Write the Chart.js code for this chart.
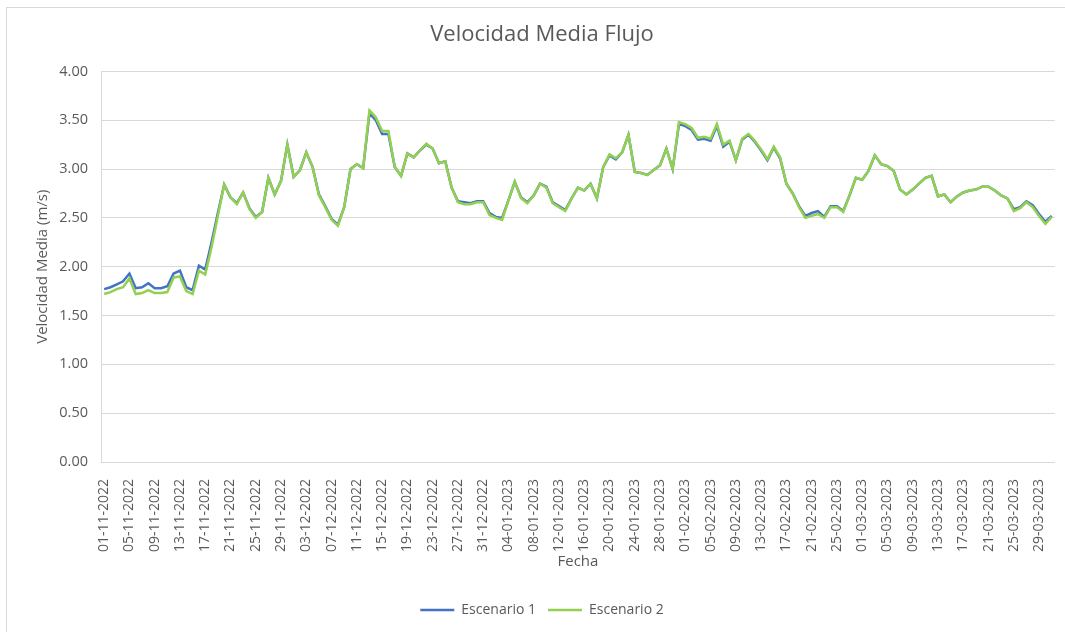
<!DOCTYPE html>
<html>
<head>
<meta charset="utf-8">
<script src="https://cdn.jsdelivr.net/npm/chart.js@4/dist/chart.umd.min.js"></script>
<style>
  html, body { margin: 0; padding: 0; background: #ffffff; }
  #wrap { position: relative; width: 1065px; height: 632px; overflow: hidden; background: #fff; }
  #frame { position: absolute; left: 6px; top: 7px; width: 1070px; height: 640px; border: 1px solid #D9D9D9; box-sizing: border-box; }
  canvas { position: absolute; left: 0; top: 0; }
</style>
</head>
<body>
<div id="wrap">
  <div id="frame"></div>
  <canvas id="c" width="1065" height="632"></canvas>
</div>
<script>
// Categories: daily dates 01-11-2022 .. 31-03-2023
const fechaInicio = [2022, 10, 1];
const numDias = 151;
const fechas = [];
for (let k = 0; k < numDias; k++) {
  const d = new Date(Date.UTC(fechaInicio[0], fechaInicio[1], fechaInicio[2] + k));
  const dd = String(d.getUTCDate()).padStart(2, '0');
  const mm = String(d.getUTCMonth() + 1).padStart(2, '0');
  fechas.push(dd + '-' + mm + '-' + d.getUTCFullYear());
}

const escenario1 = [
  1.77,1.79,1.82,1.85,1.93,1.78,1.79,1.83,1.78,1.78,1.80,1.93,1.96,1.79,1.76,2.01,1.97,
  2.25,2.55,2.84,2.71,2.65,2.76,2.60,2.51,2.56,2.91,2.74,2.88,3.25,2.92,2.99,3.17,3.02,
  2.74,2.62,2.49,2.43,2.61,3.00,3.05,3.01,3.57,3.50,3.36,3.36,3.02,2.93,3.16,3.12,3.19,
  3.25,3.21,3.06,3.08,2.81,2.67,2.66,2.65,2.67,2.67,2.55,2.51,2.50,2.68,2.87,2.71,2.66,
  2.73,2.85,2.82,2.66,2.62,2.58,2.70,2.81,2.78,2.85,2.70,3.02,3.14,3.10,3.17,3.35,2.97,
  2.96,2.94,2.99,3.04,3.21,3.00,3.46,3.44,3.40,3.30,3.31,3.29,3.44,3.23,3.28,3.09,3.30,
  3.35,3.28,3.19,3.09,3.22,3.11,2.85,2.75,2.62,2.52,2.55,2.57,2.51,2.62,2.62,2.57,2.73,
  2.91,2.89,2.98,3.14,3.05,3.03,2.98,2.79,2.74,2.79,2.85,2.91,2.93,2.72,2.74,2.66,2.72,
  2.76,2.78,2.79,2.82,2.82,2.78,2.73,2.70,2.59,2.61,2.67,2.63,2.54,2.46,2.52
];
const escenario2 = [
  1.72,1.74,1.77,1.79,1.88,1.72,1.73,1.76,1.73,1.73,1.74,1.89,1.90,1.75,1.72,1.96,1.92,
  2.20,2.52,2.84,2.71,2.64,2.76,2.59,2.50,2.56,2.91,2.74,2.88,3.25,2.92,2.99,3.17,3.02,
  2.73,2.61,2.48,2.42,2.61,3.00,3.05,3.01,3.60,3.53,3.39,3.39,3.02,2.93,3.16,3.12,3.19,
  3.26,3.21,3.06,3.08,2.81,2.66,2.64,2.64,2.66,2.66,2.53,2.50,2.48,2.68,2.87,2.70,2.65,
  2.73,2.85,2.81,2.65,2.61,2.57,2.70,2.81,2.78,2.85,2.70,3.02,3.15,3.11,3.17,3.35,2.97,
  2.96,2.94,2.99,3.04,3.21,3.00,3.48,3.46,3.42,3.32,3.33,3.31,3.46,3.25,3.29,3.09,3.31,
  3.36,3.29,3.20,3.10,3.23,3.12,2.85,2.75,2.61,2.50,2.52,2.54,2.50,2.61,2.61,2.56,2.73,
  2.91,2.89,2.98,3.14,3.05,3.03,2.98,2.79,2.74,2.79,2.85,2.91,2.93,2.72,2.74,2.66,2.72,
  2.76,2.78,2.79,2.82,2.82,2.78,2.73,2.70,2.57,2.60,2.66,2.61,2.52,2.44,2.51
];
const seriesNames = ['Escenario 1', 'Escenario 2'];
const yTicks = [0, 0.5, 1.0, 1.5, 2.0, 2.5, 3.0, 3.5, 4.0];
const labelStep = 4;

const FONT = "'Open Sans', 'Noto Sans', sans-serif";
const TXT = '#595959';

new Chart(document.getElementById('c'), {
  type: 'line',
  data: {
    labels: fechas,
    datasets: [
      { label: seriesNames[0], data: escenario1, borderColor: '#4472C4', backgroundColor: '#4472C4',
        borderWidth: 2.5, pointRadius: 0, tension: 0, order: 1, pointStyle: 'line' },
      { label: seriesNames[1], data: escenario2, borderColor: '#92D050', backgroundColor: '#92D050',
        borderWidth: 2.5, pointRadius: 0, tension: 0, order: 0, pointStyle: 'line' }
    ]
  },
  options: {
    responsive: false,
    animation: false,
    devicePixelRatio: 1,
    layout: { padding: { left: 28, right: 9, top: 0, bottom: 5 } },
    plugins: {
      title: {
        display: true, text: 'Velocidad Media Flujo', color: TXT,
        font: { family: FONT, size: 22, weight: 'normal' },
        padding: { top: 22, bottom: 23 }
      },
      legend: {
        position: 'bottom',
        labels: {
          color: TXT, font: { family: FONT, size: 14 },
          usePointStyle: true, pointStyleWidth: 34, padding: 12,
          sort: (a, b) => a.datasetIndex - b.datasetIndex
        }
      },
      tooltip: { enabled: false }
    },
    scales: {
      x: {
        type: 'category',
        offset: true,
        grid: { display: false },
        border: { display: true, color: '#D9D9D9', width: 1 },
        ticks: {
          color: TXT, font: { family: FONT, size: 14 },
          autoSkip: false, minRotation: 90, maxRotation: 90, padding: 9,
          callback: function (v, i) { return i % labelStep === 0 ? fechas[i] : null; }
        },
        title: { display: true, text: 'Fecha', color: TXT, font: { family: FONT, size: 15 }, padding: { top: 4, bottom: 20 } },
        afterFit: function (s) { s.height = 129; }
      },
      y: {
        min: 0, max: 4,
        afterBuildTicks: function (s) { s.ticks = yTicks.map(v => ({ value: v })); },
        grid: { color: '#D9D9D9', lineWidth: 1, drawTicks: false },
        border: { display: true, color: '#D9D9D9', width: 1 },
        ticks: {
          color: TXT, font: { family: FONT, size: 14.5 }, padding: 13,
          callback: function (v) { return Number(v).toFixed(2); }
        },
        title: { display: true, text: 'Velocidad Media (m/s)', color: TXT, font: { family: FONT, size: 15 }, padding: { top: 6, bottom: 0 } },
        afterFit: function (s) { s.width = 73; }
      }
    }
  }
});
</script>
</body>
</html>
